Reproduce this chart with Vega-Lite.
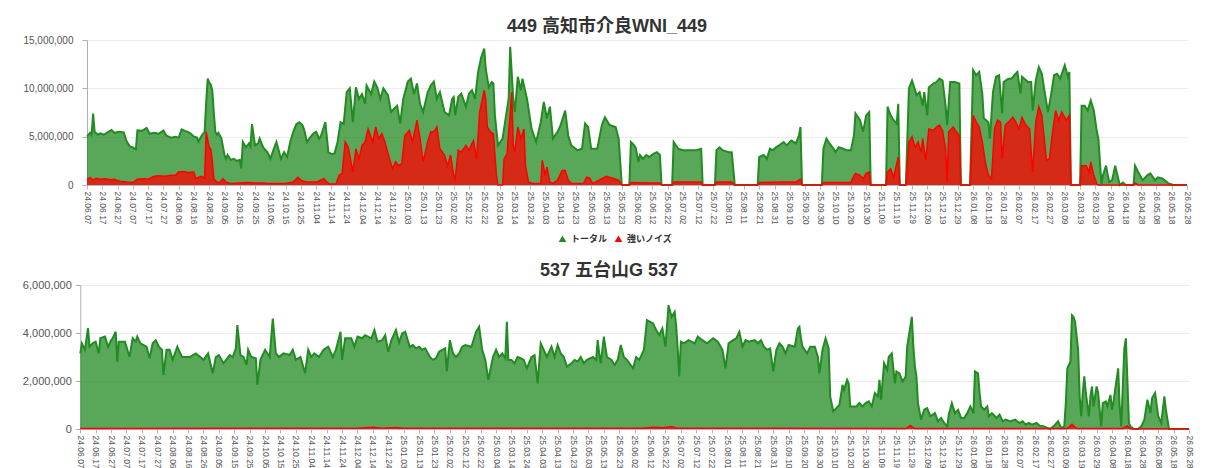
{
"$schema": "https://vega.github.io/schema/vega-lite/v6.json",
"background": "white",
"padding": {"left": 22, "top": 18, "right": 5, "bottom": 0},
"config": {
  "font": "Liberation Sans, Noto Sans CJK JP",
  "view": {"stroke": null},
  "axis": {"labelColor": "#555555", "title": null}
},
"datasets": {
"t449": [
{"d":"2024-06-07","v":5000000},{"d":"2024-06-09","v":5400000},{"d":"2024-06-10","v":5200000},{"d":"2024-06-11","v":7400000},{"d":"2024-06-12","v":5500000},{"d":"2024-06-14","v":5200000},{"d":"2024-06-16","v":5350000},{"d":"2024-06-18","v":5200000},{"d":"2024-06-20","v":5400000},{"d":"2024-06-23","v":5700000},{"d":"2024-06-25","v":5400000},{"d":"2024-06-28","v":5500000},{"d":"2024-07-01","v":5450000},{"d":"2024-07-03","v":4500000},{"d":"2024-07-05","v":4000000},{"d":"2024-07-07","v":3900000},{"d":"2024-07-09","v":3700000},{"d":"2024-07-10","v":5650000},{"d":"2024-07-13","v":5600000},{"d":"2024-07-16","v":5900000},{"d":"2024-07-18","v":5300000},{"d":"2024-07-21","v":5400000},{"d":"2024-07-24","v":5300000},{"d":"2024-07-27","v":5650000},{"d":"2024-07-29","v":5100000},{"d":"2024-08-01","v":4900000},{"d":"2024-08-04","v":5000000},{"d":"2024-08-06","v":4900000},{"d":"2024-08-08","v":5750000},{"d":"2024-08-10","v":5600000},{"d":"2024-08-12","v":5500000},{"d":"2024-08-14","v":5300000},{"d":"2024-08-16","v":5000000},{"d":"2024-08-18","v":4900000},{"d":"2024-08-19","v":4500000},{"d":"2024-08-21","v":5100000},{"d":"2024-08-23","v":5500000},{"d":"2024-08-24","v":8500000},{"d":"2024-08-25","v":11000000},{"d":"2024-08-26","v":10600000},{"d":"2024-08-27","v":10400000},{"d":"2024-08-28","v":9800000},{"d":"2024-08-29","v":7500000},{"d":"2024-08-30","v":5500000},{"d":"2024-08-31","v":5200000},{"d":"2024-09-01","v":5400000},{"d":"2024-09-03","v":4800000},{"d":"2024-09-05","v":3100000},{"d":"2024-09-06","v":2700000},{"d":"2024-09-07","v":3100000},{"d":"2024-09-09","v":2600000},{"d":"2024-09-11","v":2700000},{"d":"2024-09-13","v":2500000},{"d":"2024-09-15","v":2600000},{"d":"2024-09-16","v":1700000},{"d":"2024-09-17","v":4450000},{"d":"2024-09-19","v":3900000},{"d":"2024-09-21","v":4300000},{"d":"2024-09-22","v":4000000},{"d":"2024-09-23","v":6300000},{"d":"2024-09-25","v":4100000},{"d":"2024-09-27","v":4300000},{"d":"2024-09-28","v":4800000},{"d":"2024-09-30","v":4000000},{"d":"2024-10-01","v":3750000},{"d":"2024-10-03","v":3400000},{"d":"2024-10-04","v":3100000},{"d":"2024-10-05","v":2700000},{"d":"2024-10-07","v":3600000},{"d":"2024-10-09","v":4450000},{"d":"2024-10-12","v":2700000},{"d":"2024-10-14","v":3400000},{"d":"2024-10-16","v":2900000},{"d":"2024-10-18","v":4450000},{"d":"2024-10-20","v":5500000},{"d":"2024-10-22","v":6300000},{"d":"2024-10-24","v":6500000},{"d":"2024-10-26","v":6200000},{"d":"2024-10-27","v":5800000},{"d":"2024-10-29","v":4450000},{"d":"2024-10-31","v":4900000},{"d":"2024-11-02","v":5300000},{"d":"2024-11-04","v":5500000},{"d":"2024-11-06","v":4800000},{"d":"2024-11-07","v":5000000},{"d":"2024-11-09","v":6000000},{"d":"2024-11-10","v":6500000},{"d":"2024-11-12","v":3400000},{"d":"2024-11-14","v":3200000},{"d":"2024-11-16","v":3250000},{"d":"2024-11-18","v":4450000},{"d":"2024-11-20","v":6500000},{"d":"2024-11-22","v":6300000},{"d":"2024-11-24","v":9600000},{"d":"2024-11-26","v":10000000},{"d":"2024-11-28","v":6500000},{"d":"2024-11-30","v":10100000},{"d":"2024-12-02","v":8900000},{"d":"2024-12-04","v":9400000},{"d":"2024-12-06","v":8400000},{"d":"2024-12-07","v":10300000},{"d":"2024-12-10","v":9400000},{"d":"2024-12-12","v":10700000},{"d":"2024-12-14","v":10100000},{"d":"2024-12-16","v":8900000},{"d":"2024-12-18","v":10000000},{"d":"2024-12-21","v":9300000},{"d":"2024-12-23","v":7550000},{"d":"2024-12-25","v":7900000},{"d":"2024-12-27","v":8200000},{"d":"2024-12-29","v":6350000},{"d":"2024-12-31","v":8900000},{"d":"2025-01-03","v":10700000},{"d":"2025-01-05","v":11000000},{"d":"2025-01-07","v":9400000},{"d":"2025-01-09","v":10500000},{"d":"2025-01-11","v":8400000},{"d":"2025-01-13","v":7550000},{"d":"2025-01-16","v":9600000},{"d":"2025-01-18","v":10300000},{"d":"2025-01-20","v":10700000},{"d":"2025-01-22","v":8900000},{"d":"2025-01-24","v":9600000},{"d":"2025-01-27","v":7550000},{"d":"2025-01-30","v":7200000},{"d":"2025-02-01","v":8900000},{"d":"2025-02-02","v":9100000},{"d":"2025-02-03","v":7200000},{"d":"2025-02-05","v":9100000},{"d":"2025-02-07","v":9450000},{"d":"2025-02-10","v":8100000},{"d":"2025-02-12","v":9450000},{"d":"2025-02-14","v":9800000},{"d":"2025-02-16","v":8900000},{"d":"2025-02-18","v":11700000},{"d":"2025-02-20","v":13200000},{"d":"2025-02-22","v":14100000},{"d":"2025-02-23","v":12000000},{"d":"2025-02-25","v":10100000},{"d":"2025-02-27","v":10650000},{"d":"2025-02-28","v":10500000},{"d":"2025-03-01","v":7200000},{"d":"2025-03-03","v":4100000},{"d":"2025-03-06","v":4800000},{"d":"2025-03-08","v":6900000},{"d":"2025-03-10","v":8900000},{"d":"2025-03-11","v":14300000},{"d":"2025-03-13","v":8900000},{"d":"2025-03-14","v":7550000},{"d":"2025-03-16","v":11200000},{"d":"2025-03-18","v":9800000},{"d":"2025-03-19","v":11000000},{"d":"2025-03-22","v":8900000},{"d":"2025-03-25","v":5800000},{"d":"2025-03-28","v":4450000},{"d":"2025-03-31","v":6500000},{"d":"2025-04-02","v":8600000},{"d":"2025-04-04","v":6900000},{"d":"2025-04-06","v":8100000},{"d":"2025-04-08","v":4800000},{"d":"2025-04-11","v":5500000},{"d":"2025-04-13","v":6200000},{"d":"2025-04-16","v":7700000},{"d":"2025-04-18","v":5100000},{"d":"2025-04-20","v":4100000},{"d":"2025-04-24","v":3600000},{"d":"2025-04-27","v":3750000},{"d":"2025-04-29","v":6350000},{"d":"2025-05-01","v":6000000},{"d":"2025-05-03","v":3750000},{"d":"2025-05-07","v":3750000},{"d":"2025-05-10","v":6200000},{"d":"2025-05-12","v":7000000},{"d":"2025-05-15","v":6200000},{"d":"2025-05-19","v":6000000},{"d":"2025-05-21","v":4800000},{"d":"2025-05-23","v":100000},{"d":"2025-05-24","v":0},{"d":"2025-05-28","v":0},{"d":"2025-05-29","v":4450000},{"d":"2025-05-30","v":4300000},{"d":"2025-06-01","v":3900000},{"d":"2025-06-03","v":2400000},{"d":"2025-06-04","v":3100000},{"d":"2025-06-06","v":2700000},{"d":"2025-06-08","v":3100000},{"d":"2025-06-10","v":2900000},{"d":"2025-06-13","v":3250000},{"d":"2025-06-15","v":3400000},{"d":"2025-06-17","v":3100000},{"d":"2025-06-18","v":100000},{"d":"2025-06-19","v":0},{"d":"2025-06-25","v":0},{"d":"2025-06-26","v":4450000},{"d":"2025-06-29","v":3750000},{"d":"2025-07-02","v":3600000},{"d":"2025-07-07","v":3600000},{"d":"2025-07-11","v":3600000},{"d":"2025-07-14","v":3750000},{"d":"2025-07-15","v":0},{"d":"2025-07-23","v":0},{"d":"2025-07-24","v":3600000},{"d":"2025-07-26","v":3900000},{"d":"2025-07-28","v":3600000},{"d":"2025-08-01","v":3400000},{"d":"2025-08-03","v":3400000},{"d":"2025-08-05","v":0},{"d":"2025-08-20","v":0},{"d":"2025-08-21","v":2900000},{"d":"2025-08-24","v":3100000},{"d":"2025-08-26","v":2700000},{"d":"2025-08-28","v":3750000},{"d":"2025-08-30","v":3600000},{"d":"2025-09-01","v":3900000},{"d":"2025-09-03","v":4100000},{"d":"2025-09-06","v":4450000},{"d":"2025-09-08","v":4100000},{"d":"2025-09-11","v":4600000},{"d":"2025-09-14","v":4300000},{"d":"2025-09-16","v":5100000},{"d":"2025-09-17","v":6000000},{"d":"2025-09-18","v":100000},{"d":"2025-09-19","v":0},{"d":"2025-10-01","v":0},{"d":"2025-10-02","v":3750000},{"d":"2025-10-04","v":4800000},{"d":"2025-10-06","v":4300000},{"d":"2025-10-08","v":3900000},{"d":"2025-10-10","v":3400000},{"d":"2025-10-12","v":3900000},{"d":"2025-10-15","v":3750000},{"d":"2025-10-17","v":3600000},{"d":"2025-10-20","v":3600000},{"d":"2025-10-22","v":5100000},{"d":"2025-10-23","v":7400000},{"d":"2025-10-26","v":6700000},{"d":"2025-10-28","v":5500000},{"d":"2025-10-30","v":7200000},{"d":"2025-11-01","v":7550000},{"d":"2025-11-02","v":0},{"d":"2025-11-12","v":0},{"d":"2025-11-13","v":8100000},{"d":"2025-11-15","v":7200000},{"d":"2025-11-17","v":6700000},{"d":"2025-11-19","v":6350000},{"d":"2025-11-20","v":8400000},{"d":"2025-11-21","v":0},{"d":"2025-11-25","v":0},{"d":"2025-11-27","v":10000000},{"d":"2025-11-29","v":10800000},{"d":"2025-12-02","v":9300000},{"d":"2025-12-04","v":9600000},{"d":"2025-12-06","v":8200000},{"d":"2025-12-07","v":9600000},{"d":"2025-12-09","v":7200000},{"d":"2025-12-10","v":10100000},{"d":"2025-12-13","v":10500000},{"d":"2025-12-15","v":10650000},{"d":"2025-12-17","v":11000000},{"d":"2025-12-19","v":10800000},{"d":"2025-12-21","v":8200000},{"d":"2025-12-22","v":6200000},{"d":"2025-12-24","v":10650000},{"d":"2025-12-27","v":10650000},{"d":"2025-12-30","v":10500000},{"d":"2025-12-31","v":0},{"d":"2026-01-06","v":0},{"d":"2026-01-08","v":11900000},{"d":"2026-01-10","v":11350000},{"d":"2026-01-12","v":11700000},{"d":"2026-01-14","v":9450000},{"d":"2026-01-15","v":6900000},{"d":"2026-01-18","v":6500000},{"d":"2026-01-19","v":4800000},{"d":"2026-01-21","v":9600000},{"d":"2026-01-23","v":11200000},{"d":"2026-01-25","v":11350000},{"d":"2026-01-27","v":7400000},{"d":"2026-01-28","v":10650000},{"d":"2026-01-31","v":11000000},{"d":"2026-02-02","v":11000000},{"d":"2026-02-04","v":11350000},{"d":"2026-02-06","v":11700000},{"d":"2026-02-08","v":9450000},{"d":"2026-02-09","v":11200000},{"d":"2026-02-13","v":10650000},{"d":"2026-02-15","v":10650000},{"d":"2026-02-16","v":7700000},{"d":"2026-02-18","v":10800000},{"d":"2026-02-20","v":12200000},{"d":"2026-02-22","v":11500000},{"d":"2026-02-24","v":9450000},{"d":"2026-02-26","v":7550000},{"d":"2026-02-28","v":9300000},{"d":"2026-03-02","v":11350000},{"d":"2026-03-04","v":11500000},{"d":"2026-03-06","v":11000000},{"d":"2026-03-09","v":12400000},{"d":"2026-03-11","v":11200000},{"d":"2026-03-12","v":11700000},{"d":"2026-03-13","v":0},{"d":"2026-03-19","v":0},{"d":"2026-03-20","v":8200000},{"d":"2026-03-22","v":8200000},{"d":"2026-03-24","v":7700000},{"d":"2026-03-26","v":8750000},{"d":"2026-03-28","v":7700000},{"d":"2026-03-30","v":5500000},{"d":"2026-03-31","v":4800000},{"d":"2026-04-02","v":100000},{"d":"2026-04-03","v":1000000},{"d":"2026-04-05","v":2000000},{"d":"2026-04-07","v":300000},{"d":"2026-04-09","v":500000},{"d":"2026-04-11","v":2000000},{"d":"2026-04-13","v":650000},{"d":"2026-04-14","v":0},{"d":"2026-04-16","v":250000},{"d":"2026-04-18","v":0},{"d":"2026-04-23","v":0},{"d":"2026-04-24","v":2000000},{"d":"2026-04-26","v":1350000},{"d":"2026-04-29","v":500000},{"d":"2026-05-02","v":1000000},{"d":"2026-05-04","v":1200000},{"d":"2026-05-07","v":500000},{"d":"2026-05-09","v":800000},{"d":"2026-05-12","v":650000},{"d":"2026-05-14","v":400000},{"d":"2026-05-16","v":150000},{"d":"2026-05-19","v":0},{"d":"2026-05-28","v":0}
],
"n449": [
{"d":"2024-06-07","v":600000},{"d":"2024-06-09","v":750000},{"d":"2024-06-11","v":500000},{"d":"2024-06-13","v":700000},{"d":"2024-06-16","v":600000},{"d":"2024-06-19","v":650000},{"d":"2024-06-22","v":550000},{"d":"2024-06-25","v":600000},{"d":"2024-06-27","v":450000},{"d":"2024-06-30","v":350000},{"d":"2024-07-03","v":300000},{"d":"2024-07-07","v":250000},{"d":"2024-07-10","v":600000},{"d":"2024-07-14","v":650000},{"d":"2024-07-17","v":600000},{"d":"2024-07-21","v":900000},{"d":"2024-07-24","v":950000},{"d":"2024-07-28","v":900000},{"d":"2024-08-01","v":1000000},{"d":"2024-08-04","v":1000000},{"d":"2024-08-06","v":1350000},{"d":"2024-08-09","v":1400000},{"d":"2024-08-12","v":1300000},{"d":"2024-08-16","v":1350000},{"d":"2024-08-17","v":650000},{"d":"2024-08-19","v":800000},{"d":"2024-08-21","v":900000},{"d":"2024-08-23","v":700000},{"d":"2024-08-24","v":5500000},{"d":"2024-08-26","v":3900000},{"d":"2024-08-27","v":3750000},{"d":"2024-08-28","v":2500000},{"d":"2024-08-29","v":650000},{"d":"2024-08-31","v":300000},{"d":"2024-09-02","v":250000},{"d":"2024-09-04","v":650000},{"d":"2024-09-06","v":300000},{"d":"2024-09-09","v":150000},{"d":"2024-09-15","v":200000},{"d":"2024-09-20","v":250000},{"d":"2024-09-25","v":200000},{"d":"2024-09-30","v":200000},{"d":"2024-10-03","v":150000},{"d":"2024-10-10","v":150000},{"d":"2024-10-15","v":150000},{"d":"2024-10-20","v":300000},{"d":"2024-10-23","v":800000},{"d":"2024-10-25","v":500000},{"d":"2024-10-29","v":300000},{"d":"2024-11-04","v":300000},{"d":"2024-11-09","v":650000},{"d":"2024-11-11","v":300000},{"d":"2024-11-13","v":100000},{"d":"2024-11-17","v":100000},{"d":"2024-11-19","v":1000000},{"d":"2024-11-21","v":1200000},{"d":"2024-11-23","v":4450000},{"d":"2024-11-25","v":3900000},{"d":"2024-11-28","v":1350000},{"d":"2024-11-30","v":3750000},{"d":"2024-12-02","v":2700000},{"d":"2024-12-04","v":4100000},{"d":"2024-12-06","v":4450000},{"d":"2024-12-08","v":5800000},{"d":"2024-12-11","v":4450000},{"d":"2024-12-13","v":6000000},{"d":"2024-12-15","v":4800000},{"d":"2024-12-17","v":5300000},{"d":"2024-12-19","v":4450000},{"d":"2024-12-22","v":2700000},{"d":"2024-12-24","v":1700000},{"d":"2024-12-26","v":2400000},{"d":"2024-12-28","v":2000000},{"d":"2024-12-30","v":2200000},{"d":"2025-01-01","v":5100000},{"d":"2025-01-04","v":5650000},{"d":"2025-01-06","v":4450000},{"d":"2025-01-09","v":6700000},{"d":"2025-01-11","v":4800000},{"d":"2025-01-13","v":2400000},{"d":"2025-01-16","v":4450000},{"d":"2025-01-18","v":5500000},{"d":"2025-01-20","v":5500000},{"d":"2025-01-22","v":6000000},{"d":"2025-01-24","v":3750000},{"d":"2025-01-27","v":3100000},{"d":"2025-01-29","v":2000000},{"d":"2025-01-31","v":3100000},{"d":"2025-02-02","v":1000000},{"d":"2025-02-03","v":650000},{"d":"2025-02-05","v":3600000},{"d":"2025-02-07","v":3400000},{"d":"2025-02-10","v":4100000},{"d":"2025-02-12","v":3600000},{"d":"2025-02-14","v":4300000},{"d":"2025-02-15","v":4600000},{"d":"2025-02-17","v":2700000},{"d":"2025-02-19","v":7550000},{"d":"2025-02-22","v":9800000},{"d":"2025-02-23","v":8900000},{"d":"2025-02-24","v":6000000},{"d":"2025-02-26","v":5500000},{"d":"2025-02-28","v":5300000},{"d":"2025-03-02","v":1000000},{"d":"2025-03-03","v":0},{"d":"2025-03-06","v":0},{"d":"2025-03-07","v":2700000},{"d":"2025-03-09","v":3250000},{"d":"2025-03-10","v":5500000},{"d":"2025-03-12","v":9600000},{"d":"2025-03-13","v":4100000},{"d":"2025-03-14","v":3400000},{"d":"2025-03-16","v":6000000},{"d":"2025-03-18","v":4800000},{"d":"2025-03-20","v":5800000},{"d":"2025-03-21","v":2000000},{"d":"2025-03-23","v":300000},{"d":"2025-03-26","v":150000},{"d":"2025-03-31","v":150000},{"d":"2025-04-01","v":2550000},{"d":"2025-04-03","v":1000000},{"d":"2025-04-04","v":1850000},{"d":"2025-04-06","v":300000},{"d":"2025-04-08","v":150000},{"d":"2025-04-11","v":500000},{"d":"2025-04-14","v":1500000},{"d":"2025-04-16","v":1500000},{"d":"2025-04-18","v":500000},{"d":"2025-04-20","v":150000},{"d":"2025-04-28","v":150000},{"d":"2025-04-30","v":800000},{"d":"2025-05-02","v":700000},{"d":"2025-05-04","v":150000},{"d":"2025-05-10","v":650000},{"d":"2025-05-13","v":900000},{"d":"2025-05-18","v":650000},{"d":"2025-05-21","v":500000},{"d":"2025-05-23","v":0},{"d":"2025-05-28","v":0},{"d":"2025-05-29","v":250000},{"d":"2025-06-12","v":200000},{"d":"2025-06-17","v":200000},{"d":"2025-06-18","v":0},{"d":"2025-06-25","v":0},{"d":"2025-06-26","v":300000},{"d":"2025-07-07","v":300000},{"d":"2025-07-14","v":300000},{"d":"2025-07-15","v":0},{"d":"2025-07-23","v":0},{"d":"2025-07-24","v":300000},{"d":"2025-08-03","v":300000},{"d":"2025-08-05","v":0},{"d":"2025-08-20","v":0},{"d":"2025-08-21","v":250000},{"d":"2025-09-05","v":300000},{"d":"2025-09-14","v":300000},{"d":"2025-09-16","v":500000},{"d":"2025-09-17","v":600000},{"d":"2025-09-18","v":0},{"d":"2025-10-01","v":0},{"d":"2025-10-02","v":250000},{"d":"2025-10-20","v":250000},{"d":"2025-10-21","v":650000},{"d":"2025-10-23","v":1200000},{"d":"2025-10-26","v":1000000},{"d":"2025-10-28","v":650000},{"d":"2025-10-30","v":1200000},{"d":"2025-11-01","v":1350000},{"d":"2025-11-02","v":0},{"d":"2025-11-12","v":0},{"d":"2025-11-13","v":1350000},{"d":"2025-11-15","v":1700000},{"d":"2025-11-17","v":800000},{"d":"2025-11-20","v":2900000},{"d":"2025-11-21","v":0},{"d":"2025-11-25","v":0},{"d":"2025-11-27","v":4450000},{"d":"2025-11-29","v":5000000},{"d":"2025-12-01","v":3900000},{"d":"2025-12-03","v":4450000},{"d":"2025-12-05","v":3400000},{"d":"2025-12-06","v":4800000},{"d":"2025-12-08","v":2550000},{"d":"2025-12-10","v":5800000},{"d":"2025-12-13","v":5650000},{"d":"2025-12-15","v":6000000},{"d":"2025-12-17","v":6200000},{"d":"2025-12-19","v":5650000},{"d":"2025-12-21","v":3750000},{"d":"2025-12-22","v":300000},{"d":"2025-12-23","v":5500000},{"d":"2025-12-26","v":6000000},{"d":"2025-12-28","v":5500000},{"d":"2025-12-30","v":5100000},{"d":"2025-12-31","v":0},{"d":"2026-01-06","v":0},{"d":"2026-01-08","v":7200000},{"d":"2026-01-10","v":6500000},{"d":"2026-01-12","v":6000000},{"d":"2026-01-14","v":4450000},{"d":"2026-01-16","v":2400000},{"d":"2026-01-18","v":1000000},{"d":"2026-01-20","v":650000},{"d":"2026-01-22","v":5800000},{"d":"2026-01-24","v":6700000},{"d":"2026-01-26","v":6500000},{"d":"2026-01-27","v":2700000},{"d":"2026-01-29","v":6200000},{"d":"2026-01-31","v":6500000},{"d":"2026-02-03","v":7000000},{"d":"2026-02-05","v":6500000},{"d":"2026-02-07","v":5800000},{"d":"2026-02-09","v":7000000},{"d":"2026-02-11","v":6350000},{"d":"2026-02-14","v":5800000},{"d":"2026-02-16","v":1350000},{"d":"2026-02-18","v":6500000},{"d":"2026-02-20","v":8100000},{"d":"2026-02-22","v":7200000},{"d":"2026-02-25","v":2550000},{"d":"2026-02-27","v":2700000},{"d":"2026-03-01","v":5500000},{"d":"2026-03-03","v":7700000},{"d":"2026-03-05","v":6700000},{"d":"2026-03-07","v":7550000},{"d":"2026-03-10","v":6700000},{"d":"2026-03-12","v":7200000},{"d":"2026-03-13","v":0},{"d":"2026-03-19","v":0},{"d":"2026-03-20","v":2000000},{"d":"2026-03-23","v":2000000},{"d":"2026-03-25","v":1350000},{"d":"2026-03-26","v":2400000},{"d":"2026-03-28","v":1000000},{"d":"2026-03-30","v":100000},{"d":"2026-03-31","v":0},{"d":"2026-04-23","v":0},{"d":"2026-04-24","v":200000},{"d":"2026-04-26","v":0},{"d":"2026-05-28","v":0}
],
"t537": [
{"d":"2024-06-07","v":3150000},{"d":"2024-06-08","v":3570000},{"d":"2024-06-10","v":3300000},{"d":"2024-06-12","v":4200000},{"d":"2024-06-13","v":3430000},{"d":"2024-06-15","v":3570000},{"d":"2024-06-17","v":3640000},{"d":"2024-06-19","v":3150000},{"d":"2024-06-20","v":3780000},{"d":"2024-06-23","v":3850000},{"d":"2024-06-25","v":3430000},{"d":"2024-06-27","v":3700000},{"d":"2024-06-28","v":3780000},{"d":"2024-06-30","v":4050000},{"d":"2024-07-01","v":2800000},{"d":"2024-07-02","v":3640000},{"d":"2024-07-06","v":3640000},{"d":"2024-07-09","v":3000000},{"d":"2024-07-11","v":3780000},{"d":"2024-07-13","v":3640000},{"d":"2024-07-14","v":3850000},{"d":"2024-07-16","v":3570000},{"d":"2024-07-20","v":3430000},{"d":"2024-07-22","v":2950000},{"d":"2024-07-24","v":3570000},{"d":"2024-07-26","v":3700000},{"d":"2024-07-28","v":3430000},{"d":"2024-07-30","v":3300000},{"d":"2024-07-31","v":2250000},{"d":"2024-08-02","v":3300000},{"d":"2024-08-04","v":3300000},{"d":"2024-08-06","v":2880000},{"d":"2024-08-09","v":3430000},{"d":"2024-08-12","v":3000000},{"d":"2024-08-17","v":3000000},{"d":"2024-08-21","v":3150000},{"d":"2024-08-24","v":3000000},{"d":"2024-08-26","v":2880000},{"d":"2024-08-29","v":3150000},{"d":"2024-09-01","v":2320000},{"d":"2024-09-03","v":3000000},{"d":"2024-09-05","v":3080000},{"d":"2024-09-08","v":2740000},{"d":"2024-09-12","v":3080000},{"d":"2024-09-14","v":3000000},{"d":"2024-09-16","v":3360000},{"d":"2024-09-17","v":4330000},{"d":"2024-09-19","v":3080000},{"d":"2024-09-21","v":3000000},{"d":"2024-09-23","v":2670000},{"d":"2024-09-24","v":3300000},{"d":"2024-09-26","v":3000000},{"d":"2024-09-29","v":2950000},{"d":"2024-09-30","v":1840000},{"d":"2024-10-02","v":2880000},{"d":"2024-10-05","v":3300000},{"d":"2024-10-08","v":3000000},{"d":"2024-10-10","v":4600000},{"d":"2024-10-12","v":3150000},{"d":"2024-10-14","v":3000000},{"d":"2024-10-17","v":3150000},{"d":"2024-10-21","v":3080000},{"d":"2024-10-23","v":3300000},{"d":"2024-10-25","v":2880000},{"d":"2024-10-28","v":3000000},{"d":"2024-10-31","v":2320000},{"d":"2024-11-02","v":3300000},{"d":"2024-11-04","v":3000000},{"d":"2024-11-06","v":3150000},{"d":"2024-11-09","v":3000000},{"d":"2024-11-12","v":3300000},{"d":"2024-11-15","v":3430000},{"d":"2024-11-18","v":3000000},{"d":"2024-11-20","v":3300000},{"d":"2024-11-23","v":4050000},{"d":"2024-11-24","v":2880000},{"d":"2024-11-26","v":3780000},{"d":"2024-11-30","v":3780000},{"d":"2024-12-02","v":3430000},{"d":"2024-12-04","v":3850000},{"d":"2024-12-07","v":3780000},{"d":"2024-12-09","v":3910000},{"d":"2024-12-13","v":3780000},{"d":"2024-12-15","v":4120000},{"d":"2024-12-17","v":3640000},{"d":"2024-12-20","v":3700000},{"d":"2024-12-22","v":3910000},{"d":"2024-12-24","v":3220000},{"d":"2024-12-26","v":3700000},{"d":"2024-12-29","v":4120000},{"d":"2024-12-31","v":3600000},{"d":"2025-01-02","v":3980000},{"d":"2025-01-04","v":4050000},{"d":"2025-01-07","v":3430000},{"d":"2025-01-09","v":3500000},{"d":"2025-01-11","v":3360000},{"d":"2025-01-13","v":3430000},{"d":"2025-01-15","v":3300000},{"d":"2025-01-17","v":3360000},{"d":"2025-01-20","v":3000000},{"d":"2025-01-22","v":2880000},{"d":"2025-01-24","v":2950000},{"d":"2025-01-26","v":3220000},{"d":"2025-01-28","v":3300000},{"d":"2025-01-30","v":3360000},{"d":"2025-01-31","v":2400000},{"d":"2025-02-02","v":3700000},{"d":"2025-02-04","v":3150000},{"d":"2025-02-06","v":3000000},{"d":"2025-02-08","v":3150000},{"d":"2025-02-10","v":3430000},{"d":"2025-02-12","v":3500000},{"d":"2025-02-16","v":3430000},{"d":"2025-02-19","v":4050000},{"d":"2025-02-21","v":4260000},{"d":"2025-02-23","v":3300000},{"d":"2025-02-25","v":2880000},{"d":"2025-02-27","v":2050000},{"d":"2025-03-02","v":3000000},{"d":"2025-03-04","v":3300000},{"d":"2025-03-06","v":3000000},{"d":"2025-03-08","v":3150000},{"d":"2025-03-10","v":2950000},{"d":"2025-03-11","v":4470000},{"d":"2025-03-12","v":2880000},{"d":"2025-03-14","v":2880000},{"d":"2025-03-16","v":2740000},{"d":"2025-03-18","v":3000000},{"d":"2025-03-20","v":2950000},{"d":"2025-03-22","v":2880000},{"d":"2025-03-24","v":2530000},{"d":"2025-03-27","v":3000000},{"d":"2025-03-29","v":3080000},{"d":"2025-03-31","v":1900000},{"d":"2025-04-02","v":3570000},{"d":"2025-04-04","v":3300000},{"d":"2025-04-06","v":3000000},{"d":"2025-04-09","v":3430000},{"d":"2025-04-11","v":3000000},{"d":"2025-04-13","v":3500000},{"d":"2025-04-15","v":3150000},{"d":"2025-04-17","v":3000000},{"d":"2025-04-19","v":2600000},{"d":"2025-04-22","v":2740000},{"d":"2025-04-24","v":2880000},{"d":"2025-04-26","v":2810000},{"d":"2025-04-28","v":3000000},{"d":"2025-04-30","v":2740000},{"d":"2025-05-02","v":2880000},{"d":"2025-05-06","v":3000000},{"d":"2025-05-08","v":2880000},{"d":"2025-05-09","v":3700000},{"d":"2025-05-10","v":3150000},{"d":"2025-05-11","v":2740000},{"d":"2025-05-13","v":3850000},{"d":"2025-05-15","v":3000000},{"d":"2025-05-18","v":2880000},{"d":"2025-05-20","v":2670000},{"d":"2025-05-22","v":2880000},{"d":"2025-05-24","v":3500000},{"d":"2025-05-26","v":3000000},{"d":"2025-05-28","v":2880000},{"d":"2025-06-01","v":2530000},{"d":"2025-06-03","v":3000000},{"d":"2025-06-05","v":2880000},{"d":"2025-06-08","v":3300000},{"d":"2025-06-10","v":4540000},{"d":"2025-06-14","v":4400000},{"d":"2025-06-16","v":4120000},{"d":"2025-06-18","v":3910000},{"d":"2025-06-20","v":4190000},{"d":"2025-06-22","v":3430000},{"d":"2025-06-24","v":5160000},{"d":"2025-06-26","v":4670000},{"d":"2025-06-28","v":4880000},{"d":"2025-06-29","v":4260000},{"d":"2025-06-30","v":3300000},{"d":"2025-07-01","v":2190000},{"d":"2025-07-02","v":3640000},{"d":"2025-07-04","v":3570000},{"d":"2025-07-07","v":3700000},{"d":"2025-07-11","v":3570000},{"d":"2025-07-13","v":3850000},{"d":"2025-07-16","v":3700000},{"d":"2025-07-19","v":3570000},{"d":"2025-07-23","v":3780000},{"d":"2025-07-26","v":3640000},{"d":"2025-07-29","v":3300000},{"d":"2025-07-31","v":2530000},{"d":"2025-08-02","v":3570000},{"d":"2025-08-05","v":3700000},{"d":"2025-08-07","v":3780000},{"d":"2025-08-09","v":4050000},{"d":"2025-08-11","v":3430000},{"d":"2025-08-13","v":3700000},{"d":"2025-08-15","v":3640000},{"d":"2025-08-19","v":3700000},{"d":"2025-08-21","v":3570000},{"d":"2025-08-23","v":3700000},{"d":"2025-08-25","v":3430000},{"d":"2025-08-27","v":3300000},{"d":"2025-08-29","v":3360000},{"d":"2025-08-31","v":2400000},{"d":"2025-09-02","v":3300000},{"d":"2025-09-04","v":3570000},{"d":"2025-09-06","v":3430000},{"d":"2025-09-08","v":3150000},{"d":"2025-09-10","v":3500000},{"d":"2025-09-14","v":3430000},{"d":"2025-09-16","v":4190000},{"d":"2025-09-17","v":4260000},{"d":"2025-09-18","v":3780000},{"d":"2025-09-19","v":3430000},{"d":"2025-09-22","v":3150000},{"d":"2025-09-24","v":3430000},{"d":"2025-09-27","v":3430000},{"d":"2025-09-29","v":3000000},{"d":"2025-09-30","v":2320000},{"d":"2025-10-02","v":3300000},{"d":"2025-10-04","v":3780000},{"d":"2025-10-06","v":3360000},{"d":"2025-10-07","v":1360000},{"d":"2025-10-09","v":730000},{"d":"2025-10-11","v":870000},{"d":"2025-10-13","v":1010000},{"d":"2025-10-15","v":1840000},{"d":"2025-10-16","v":1630000},{"d":"2025-10-18","v":2050000},{"d":"2025-10-19","v":1900000},{"d":"2025-10-20","v":940000},{"d":"2025-10-24","v":940000},{"d":"2025-10-26","v":1080000},{"d":"2025-10-28","v":940000},{"d":"2025-10-30","v":1080000},{"d":"2025-11-01","v":1150000},{"d":"2025-11-03","v":940000},{"d":"2025-11-05","v":1500000},{"d":"2025-11-07","v":1360000},{"d":"2025-11-08","v":2050000},{"d":"2025-11-09","v":1220000},{"d":"2025-11-11","v":2740000},{"d":"2025-11-13","v":2460000},{"d":"2025-11-14","v":3000000},{"d":"2025-11-16","v":3150000},{"d":"2025-11-18","v":1900000},{"d":"2025-11-19","v":2400000},{"d":"2025-11-21","v":2320000},{"d":"2025-11-23","v":1980000},{"d":"2025-11-25","v":2190000},{"d":"2025-11-26","v":3430000},{"d":"2025-11-27","v":3850000},{"d":"2025-11-29","v":4670000},{"d":"2025-11-30","v":3430000},{"d":"2025-12-01","v":2600000},{"d":"2025-12-02","v":2190000},{"d":"2025-12-03","v":1080000},{"d":"2025-12-05","v":390000},{"d":"2025-12-07","v":800000},{"d":"2025-12-09","v":870000},{"d":"2025-12-11","v":530000},{"d":"2025-12-14","v":660000},{"d":"2025-12-16","v":320000},{"d":"2025-12-18","v":460000},{"d":"2025-12-20","v":250000},{"d":"2025-12-22","v":110000},{"d":"2025-12-23","v":600000},{"d":"2025-12-25","v":1080000},{"d":"2025-12-27","v":660000},{"d":"2025-12-29","v":800000},{"d":"2025-12-31","v":460000},{"d":"2026-01-02","v":460000},{"d":"2026-01-04","v":660000},{"d":"2026-01-06","v":940000},{"d":"2026-01-08","v":660000},{"d":"2026-01-09","v":2400000},{"d":"2026-01-11","v":2320000},{"d":"2026-01-12","v":1500000},{"d":"2026-01-13","v":940000},{"d":"2026-01-15","v":800000},{"d":"2026-01-17","v":940000},{"d":"2026-01-18","v":530000},{"d":"2026-01-20","v":660000},{"d":"2026-01-23","v":460000},{"d":"2026-01-25","v":600000},{"d":"2026-01-27","v":320000},{"d":"2026-01-29","v":390000},{"d":"2026-02-01","v":320000},{"d":"2026-02-04","v":390000},{"d":"2026-02-07","v":250000},{"d":"2026-02-09","v":320000},{"d":"2026-02-11","v":180000},{"d":"2026-02-13","v":250000},{"d":"2026-02-15","v":180000},{"d":"2026-02-18","v":250000},{"d":"2026-02-20","v":140000},{"d":"2026-02-23","v":110000},{"d":"2026-02-25","v":40000},{"d":"2026-02-27","v":0},{"d":"2026-03-01","v":110000},{"d":"2026-03-04","v":320000},{"d":"2026-03-06","v":40000},{"d":"2026-03-08","v":110000},{"d":"2026-03-09","v":1080000},{"d":"2026-03-10","v":2530000},{"d":"2026-03-12","v":2810000},{"d":"2026-03-13","v":4740000},{"d":"2026-03-14","v":4670000},{"d":"2026-03-15","v":4470000},{"d":"2026-03-17","v":3300000},{"d":"2026-03-18","v":1360000},{"d":"2026-03-19","v":530000},{"d":"2026-03-20","v":1500000},{"d":"2026-03-21","v":2190000},{"d":"2026-03-22","v":1500000},{"d":"2026-03-24","v":530000},{"d":"2026-03-25","v":1360000},{"d":"2026-03-26","v":1770000},{"d":"2026-03-27","v":940000},{"d":"2026-03-29","v":1770000},{"d":"2026-03-30","v":1500000},{"d":"2026-04-01","v":110000},{"d":"2026-04-02","v":1080000},{"d":"2026-04-04","v":1150000},{"d":"2026-04-05","v":940000},{"d":"2026-04-07","v":1420000},{"d":"2026-04-08","v":800000},{"d":"2026-04-09","v":1150000},{"d":"2026-04-12","v":2530000},{"d":"2026-04-13","v":940000},{"d":"2026-04-14","v":110000},{"d":"2026-04-16","v":3360000},{"d":"2026-04-17","v":3780000},{"d":"2026-04-19","v":250000},{"d":"2026-04-20","v":110000},{"d":"2026-04-22","v":0},{"d":"2026-04-25","v":0},{"d":"2026-04-27","v":110000},{"d":"2026-04-29","v":390000},{"d":"2026-05-01","v":1220000},{"d":"2026-05-03","v":660000},{"d":"2026-05-04","v":1290000},{"d":"2026-05-06","v":1500000},{"d":"2026-05-08","v":530000},{"d":"2026-05-10","v":250000},{"d":"2026-05-12","v":1360000},{"d":"2026-05-13","v":800000},{"d":"2026-05-15","v":0},{"d":"2026-05-28","v":0}
],
"n537": [
{"d":"2024-06-07","v":20000},{"d":"2024-12-04","v":30000},{"d":"2024-12-14","v":70000},{"d":"2024-12-20","v":30000},{"d":"2024-12-29","v":60000},{"d":"2025-01-03","v":30000},{"d":"2025-06-07","v":30000},{"d":"2025-06-14","v":70000},{"d":"2025-06-20","v":50000},{"d":"2025-06-26","v":90000},{"d":"2025-06-30","v":30000},{"d":"2025-11-25","v":20000},{"d":"2025-11-28","v":140000},{"d":"2025-12-01","v":20000},{"d":"2026-03-10","v":20000},{"d":"2026-03-13","v":200000},{"d":"2026-03-16","v":20000},{"d":"2026-04-15","v":20000},{"d":"2026-04-18","v":130000},{"d":"2026-04-20","v":10000},{"d":"2026-05-28","v":10000}
]
},
"concat": [
{
  "title": {"text": "449 高知市介良WNI_449", "fontSize": 18, "fontWeight": "bold", "color": "#333333", "anchor": "middle", "frame": "bounds", "offset": -1},
  "width": 1100, "height": 145,
  "encoding": {
    "x": {"field": "d", "type": "temporal",
      "scale": {"type": "utc", "domain": [1717718400000, 1779926400000], "nice": false},
      "axis": {"values": [1717718400000,1718582400000,1719446400000,1720310400000,1721174400000,1722038400000,1722902400000,1723766400000,1724630400000,1725494400000,1726358400000,1727222400000,1728086400000,1728950400000,1729814400000,1730678400000,1731542400000,1732406400000,1733270400000,1734134400000,1734998400000,1735862400000,1736726400000,1737590400000,1738454400000,1739318400000,1740182400000,1741046400000,1741910400000,1742774400000,1743638400000,1744502400000,1745366400000,1746230400000,1747094400000,1747958400000,1748822400000,1749686400000,1750550400000,1751414400000,1752278400000,1753142400000,1754006400000,1754870400000,1755734400000,1756598400000,1757462400000,1758326400000,1759190400000,1760054400000,1760918400000,1761782400000,1762646400000,1763510400000,1764374400000,1765238400000,1766102400000,1766966400000,1767830400000,1768694400000,1769558400000,1770422400000,1771286400000,1772150400000,1773014400000,1773878400000,1774742400000,1775606400000,1776470400000,1777334400000,1778198400000,1779062400000,1779926400000],
        "format": "%y.%m.%d", "labelAngle": 90, "labelFontSize": 8.5, "labelOverlap": false, "labelFlush": false, "labelPadding": 2,
        "tickSize": 4, "tickColor": "#b0b8c8", "domainColor": "#b0b8c8", "grid": false}},
    "y": {"field": "v", "type": "quantitative", "stack": null,
      "scale": {"domain": [0, 15000000], "nice": false},
      "axis": {"values": [0, 5000000, 10000000, 15000000], "format": ",d", "labelFontSize": 10, "labelPadding": 9, "tickSize": 5, "tickColor": "#b0b0b0", "domainColor": "#b0b0b0", "gridColor": "#ececec"}}
  },
  "layer": [
    {"data": {"name": "t449"},
     "mark": {"type": "area", "fillOpacity": 0.75, "line": {"strokeWidth": 2}},
     "encoding": {"color": {"datum": "トータル", "type": "nominal",
        "scale": {"domain": ["トータル", "強いノイズ"], "range": ["#228b22", "#ff0000"]},
        "legend": {"orient": "none", "legendX": 471, "legendY": 194, "direction": "horizontal", "title": null,
          "symbolType": "triangle-up", "symbolSize": 60, "symbolOpacity": 1, "symbolStrokeWidth": 0,
          "labelFontSize": 9, "labelFontWeight": "bold", "labelColor": "#333333", "columnPadding": 6, "padding": 0}}}},
    {"data": {"name": "n449"},
     "mark": {"type": "area", "fillOpacity": 0.75, "line": {"strokeWidth": 1.5}},
     "encoding": {"color": {"datum": "強いノイズ", "type": "nominal"}}}
  ]
},
{
  "title": {"text": "537 五台山G 537", "fontSize": 18, "fontWeight": "bold", "color": "#333333", "anchor": "middle", "frame": "bounds", "offset": -1},
  "width": 1102, "height": 144,
  "encoding": {
    "x": {"field": "d", "type": "temporal",
      "scale": {"type": "utc", "domain": [1717718400000, 1779926400000], "nice": false, "range": [-6.7, 1102]},
      "axis": {"values": [1717718400000,1718582400000,1719446400000,1720310400000,1721174400000,1722038400000,1722902400000,1723766400000,1724630400000,1725494400000,1726358400000,1727222400000,1728086400000,1728950400000,1729814400000,1730678400000,1731542400000,1732406400000,1733270400000,1734134400000,1734998400000,1735862400000,1736726400000,1737590400000,1738454400000,1739318400000,1740182400000,1741046400000,1741910400000,1742774400000,1743638400000,1744502400000,1745366400000,1746230400000,1747094400000,1747958400000,1748822400000,1749686400000,1750550400000,1751414400000,1752278400000,1753142400000,1754006400000,1754870400000,1755734400000,1756598400000,1757462400000,1758326400000,1759190400000,1760054400000,1760918400000,1761782400000,1762646400000,1763510400000,1764374400000,1765238400000,1766102400000,1766966400000,1767830400000,1768694400000,1769558400000,1770422400000,1771286400000,1772150400000,1773014400000,1773878400000,1774742400000,1775606400000,1776470400000,1777334400000,1778198400000,1779062400000,1779926400000],
        "format": "%y.%m.%d", "labelAngle": 90, "labelFontSize": 8.5, "labelOverlap": false, "labelFlush": false, "labelPadding": 2,
        "tickSize": 4, "tickColor": "#b0b8c8", "domainColor": "#b0b8c8", "grid": false}},
    "y": {"field": "v", "type": "quantitative", "stack": null,
      "scale": {"domain": [0, 6000000], "nice": false},
      "axis": {"values": [0, 2000000, 4000000, 6000000], "format": ",d", "offset": 6.7, "labelFontSize": 11, "labelPadding": 4, "tickSize": 5, "tickColor": "#b0b0b0", "domainColor": "#b0b0b0", "gridColor": "#ececec"}}
  },
  "layer": [
    {"data": {"name": "t537"},
     "mark": {"type": "area", "fillOpacity": 0.75, "line": {"strokeWidth": 2}},
     "encoding": {"color": {"datum": "トータル", "type": "nominal",
        "scale": {"domain": ["トータル", "強いノイズ"], "range": ["#228b22", "#ff0000"]}, "legend": null}}},
    {"data": {"name": "n537"},
     "mark": {"type": "area", "fillOpacity": 0.75, "line": {"strokeWidth": 1.5}},
     "encoding": {"color": {"datum": "強いノイズ", "type": "nominal"}}}
  ]
}
],
"columns": 1,
"spacing": 18,
"resolve": {"scale": {"color": "independent"}, "legend": {"color": "independent"}}
}
